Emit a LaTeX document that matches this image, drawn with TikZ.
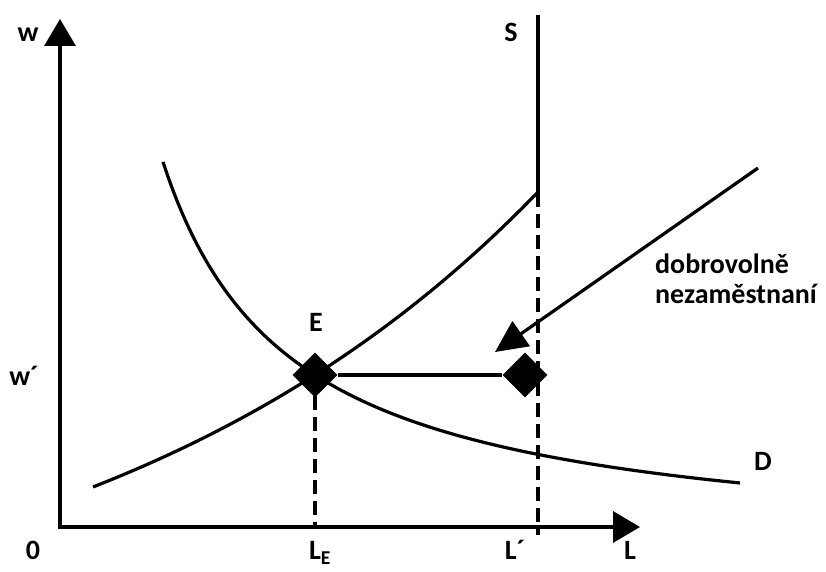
\documentclass[tikz,border=0pt]{standalone}
\usepackage{fontspec}
\setmainfont{Carlito}
\usetikzlibrary{arrows.meta,shapes.geometric}
\begin{document}
\begin{tikzpicture}[x=1pt,y=1pt,
  lbl/.style={font=\fontsize{28}{32}\selectfont\bfseries, inner sep=0pt, anchor=base},
  curve/.style={line width=3.2pt},
  dashline/.style={line width=3.2pt, dash pattern=on 14pt off 7pt},
  dmd/.style={diamond, fill=black, minimum size=45pt, inner sep=0pt},
  axis/.style={line width=3.5pt, {Triangle[length=27pt,width=31pt]}-{Triangle[length=27pt,width=31pt]}},
  bigarrow/.style={line width=3.2pt, -{Triangle[length=32pt,width=30pt]}}
  ]
\useasboundingbox (0,0) rectangle (826,572);
% axes
\coordinate (O) at (60,45);
\coordinate (ytip) at (60,553);
\coordinate (xtip) at (640,45);
\draw[axis] (ytip) -- (O) -- (xtip);
% key points
\coordinate (E) at (315,197);
\coordinate (Sbot) at (538,379);
\coordinate (Stop) at (538,557);
\coordinate (Lp) at (538,37);
\coordinate (LE) at (315,45);
% supply (vertical part)
\draw[curve] (Stop) -- (Sbot);
% dashed lines
\draw[dashline] (Sbot) -- (Lp);
\draw[dashline] (E) -- (LE);
% supply curve
\draw[curve] plot[domain=93:538, samples=80] (\x, {-94.8+146.8*exp(0.002182*\x)});
% demand curve
\draw[curve] plot[domain=163:740, samples=120] (\x, {17.9+501.23/((\x-35.17)/100)});
% horizontal line & diamonds
\node[dmd] (dE) at (E) {};
\node[dmd] (dR) at (525,197) {};
\draw[curve] (dE) -- (dR);
% arrow
\coordinate (astart) at (758,404);
\coordinate (aend) at (495,220);
\draw[bigarrow] (astart) -- (aend);
% labels
\node[lbl] (lw) at (28,530) {w};
\node[lbl] (lwp) at (24,186) {w´};
\node[lbl] (l0) at (33,12) {0};
\node[lbl] (lLE) at (320,12) {L\textsubscript{E}};
\node[lbl] (lLp) at (515,12) {L´};
\node[lbl] (lL) at (630,12) {L};
\node[lbl] (lS) at (511,530) {S};
\node[lbl] (lE) at (316,240) {E};
\node[lbl] (lD) at (763,101) {D};
\node[lbl, anchor=base west] (t1) at (655,298) {dobrovolně};
\node[lbl, anchor=base west] (t2) at (655,268) {nezaměstnaní};
\end{tikzpicture}
\end{document}
